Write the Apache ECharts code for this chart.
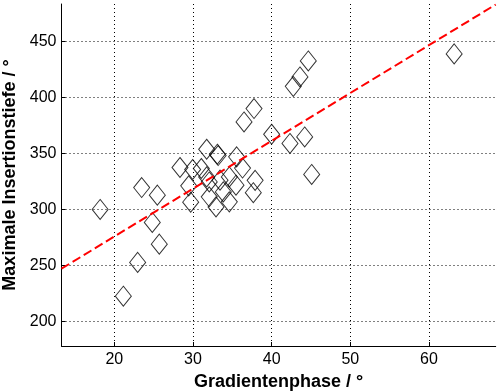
<!DOCTYPE html>
<html>
<head>
<meta charset="utf-8">
<script src="https://cdn.jsdelivr.net/npm/echarts@6/dist/echarts.min.js"></script>
<style>html,body{margin:0;padding:0;background:#fff}#c{width:501px;height:392px}</style>
</head>
<body>
<div id="c"></div>
<script>
// Data
const phaseX = [18.2, 21.15, 22.97, 23.48, 24.83, 25.47, 25.72,
  28.35, 29.96, 29.46, 29.71, 31.06, 31.74, 31.74, 32.07, 32.07, 33.1, 33.2, 32.93,
  33.44, 33.86, 34.62, 34.62, 35.47, 35.55, 36.3, 36.49, 37.76, 37.67, 37.9,
  40.0, 42.33, 44.2, 45.09, 42.75, 43.6, 44.66, 63.2];
const depthY = [300, 222.5, 252.7, 319.6, 288.4, 312.8, 269,
  337.5, 335.7, 321.1, 306.5, 336.6, 353.8, 329.1, 324.6, 311.3, 349.4, 348.2, 302.3,
  326.2, 315.7, 329.1, 306.8, 321.7, 347, 337, 378.2, 390.2, 315, 326,
  367.2, 359, 364.8, 331.3, 410, 418.4, 432.7, 439];
const fitX = [13.29, 68.48];
const fitY = [247.1, 483.1];
const xTicks = [20, 30, 40, 50, 60];
const yTicks = [200, 250, 300, 350, 400, 450];
const xRange = [13.29, 68.48];
const yRange = [178, 483.6];

const chart = echarts.init(document.getElementById('c'), null, {renderer: 'canvas'});
const font = 'Liberation Sans, Arial, sans-serif';
const axisCommon = {
  axisLine: {show: true, onZero: false, lineStyle: {color: '#000', width: 1}},
  axisTick: {show: true, inside: true, length: 4, lineStyle: {color: '#000'}},
  splitLine: {show: true, lineStyle: {color: '#000', width: 1, type: [1, 3]}},
  nameLocation: 'middle',
  nameTextStyle: {color: '#000', fontFamily: font, fontSize: 18, fontWeight: 'bold'},
};
chart.setOption({
  animation: false,
  backgroundColor: '#fff',
  grid: {left: 61.5, right: 5.3, top: 4, bottom: 46, containLabel: false, outerBoundsMode: 'none'},
  xAxis: Object.assign({}, axisCommon, {
    type: 'value', min: xRange[0], max: xRange[1],
    name: 'Gradientenphase / °', nameGap: 26,
    axisTick: Object.assign({}, axisCommon.axisTick, {customValues: xTicks}),
    axisLabel: {customValues: xTicks, color: '#000', fontFamily: font, fontSize: 16, margin: 6},
  }),
  yAxis: Object.assign({}, axisCommon, {
    type: 'value', min: yRange[0], max: yRange[1],
    name: 'Maximale Insertionstiefe / °', nameGap: 31,
    axisTick: Object.assign({}, axisCommon.axisTick, {customValues: yTicks}),
    axisLabel: {customValues: yTicks, color: '#000', fontFamily: font, fontSize: 16, margin: 5},
  }),
  series: [
    {
      type: 'scatter',
      data: phaseX.map((x, i) => [x, depthY[i]]),
      symbol: 'diamond',
      symbolSize: [16, 20],
      itemStyle: {color: 'rgba(0,0,0,0)', borderColor: '#000', borderWidth: 1},
      z: 2
    },
    {
      type: 'line',
      data: fitX.map((x, i) => [x, fitY[i]]),
      showSymbol: false,
      symbol: 'none',
      lineStyle: {color: '#ff0000', width: 2, type: [9, 4]},
      z: 3
    }
  ]
});
</script>
</body>
</html>
